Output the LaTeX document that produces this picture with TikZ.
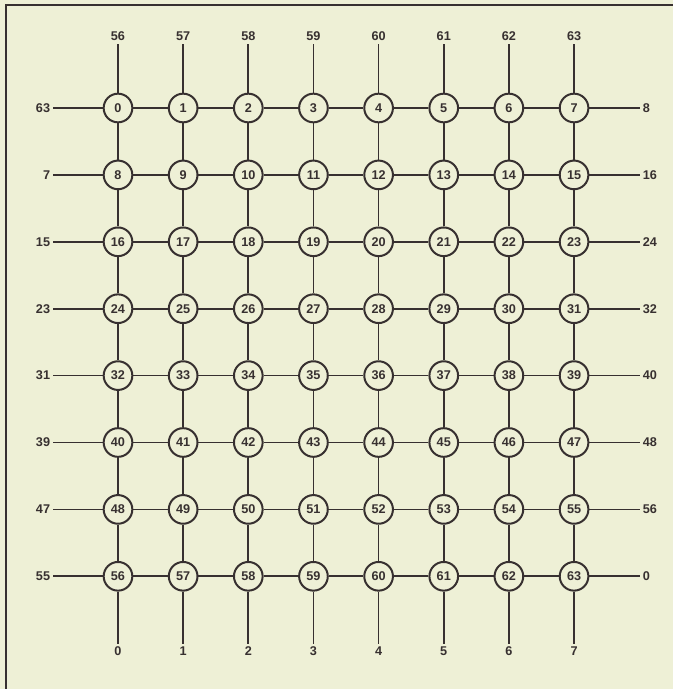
\documentclass[tikz,border=0pt]{standalone}
\usepackage{fontspec}
\setmainfont{Liberation Sans}
\definecolor{paper}{RGB}{238,240,214}
\definecolor{ink}{RGB}{55,48,48}

\begin{document}
\begin{tikzpicture}[x=0.75pt, y=-0.75pt, font=\fontsize{9.5}{10}\selectfont\bfseries,
  pe/.style={draw=ink, circle, line width=1.5pt, minimum size=21.5pt, inner sep=0pt, fill=paper, text=ink},
  lbl/.style={inner sep=2pt, text=ink},
  link/.style={draw=ink, line width=1.3pt}]
% ---------------- paper and frame
\fill[paper] (0,0) rectangle (673,689);
\useasboundingbox (0,0) rectangle (673,689);
\draw[ink, line width=1.4pt] (673,5) -- (6,5) -- (6,689);
% ---------------- processing elements, 8 x 8
\foreach \r in {0,...,7}
  \foreach \c in {0,...,7} {
    \pgfmathtruncatemacro\k{8*\r+\c}
    \node[pe] (n\k) at ({118+65.15*\c},{108+66.9*\r}) {\k};
  }
% ---------------- mesh links
\foreach \r in {0,...,7}
  \foreach \c in {0,...,6} {
    \pgfmathtruncatemacro\k{8*\r+\c}
    \pgfmathtruncatemacro\m{\k+1}
    \draw[link] (n\k) -- (n\m);
  }
\foreach \r in {0,...,6}
  \foreach \c in {0,...,7} {
    \pgfmathtruncatemacro\k{8*\r+\c}
    \pgfmathtruncatemacro\m{\k+8}
    \draw[link] (n\k) -- (n\m);
  }
% ---------------- wrap-around ends, top and bottom
\foreach \c in {0,...,7} {
  \pgfmathtruncatemacro\t{56+\c}
  \pgfmathtruncatemacro\b{56+\c}
  \node[lbl, anchor=south] (top\c) at ({118+65.15*\c},44) {\t};
  \node[lbl, anchor=north] (bot\c) at ({118+65.15*\c},644) {\c};
  \draw[link] (top\c.south) -- (n\c);
  \draw[link] (n\b) -- (bot\c.north);
}
% ---------------- wrap-around ends, left and right
\foreach \r in {0,...,7} {
  \pgfmathtruncatemacro\k{8*\r}
  \pgfmathtruncatemacro\e{8*\r+7}
  \pgfmathtruncatemacro\lt{mod(8*\r+63,64)}
  \pgfmathtruncatemacro\rt{mod(8*\r+8,64)}
  \node[lbl, anchor=east] (lft\r) at (53,{108+66.9*\r}) {\lt};
  \node[lbl, anchor=west] (rgt\r) at (640,{108+66.9*\r}) {\rt};
  \draw[link] (lft\r.east) -- (n\k);
  \draw[link] (n\e) -- (rgt\r.west);
}
\end{tikzpicture}
\end{document}
